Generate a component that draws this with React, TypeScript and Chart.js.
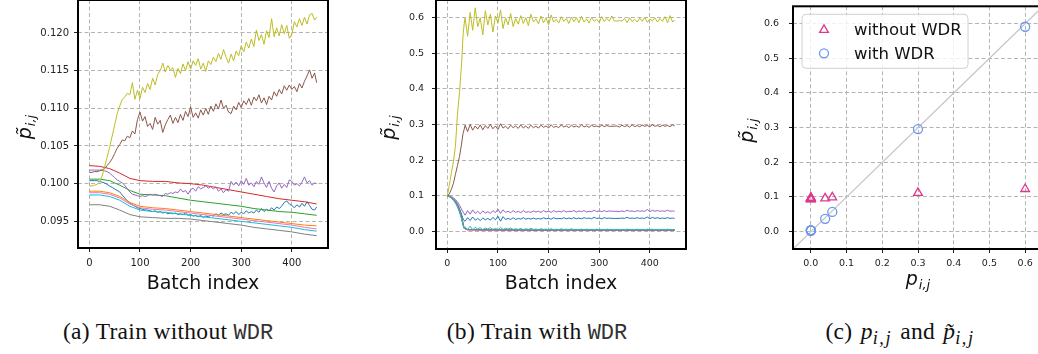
import React, { useEffect, useRef } from 'react';
import { Chart, registerables } from 'chart.js';

Chart.register(...registerables);

const FONT = "'DejaVu Sans', sans-serif";

// ---------------- classes ----------------
const classColors = ['#1f77b4', '#ff7f0e', '#2ca02c', '#d62728', '#9467bd', '#8c564b', '#e377c2', '#7f7f7f', '#bcbd22', '#17becf'];

// ---------------- panel (a): train without WDR ----------------
const aNoisyBatch = [
  0, 5, 10, 15, 20, 25, 30, 35, 40, 45,
  50, 55, 60, 65, 70, 75, 80, 85, 90, 95,
  100, 105, 110, 115, 120, 125, 130, 135, 140, 145,
  150, 155, 160, 165, 170, 175, 180, 185, 190, 195,
  200, 205, 210, 215, 220, 225, 230, 235, 240, 245,
  250, 255, 260, 265, 270, 275, 280, 285, 290, 295,
  300, 305, 310, 315, 320, 325, 330, 335, 340, 345,
  350, 355, 360, 365, 370, 375, 380, 385, 390, 395,
  400, 405, 410, 415, 420, 425, 430, 435, 440, 445,
  449,
];
const aSmoothBatch = [0, 20, 40, 60, 80, 100, 125, 150, 175, 200, 225, 250, 275, 300, 325, 350, 375, 400, 425, 449];

const aOlive = [
  0.0997, 0.0997, 0.0998, 0.0999, 0.1002, 0.1010, 0.1022, 0.1035, 0.1048, 0.1063,
  0.1078, 0.1093, 0.1103, 0.1112, 0.1115, 0.1120, 0.1118, 0.1134, 0.1112, 0.1124,
  0.1113, 0.1128, 0.1121, 0.1133, 0.1125, 0.1140, 0.1131, 0.1145, 0.1150, 0.1160,
  0.1148, 0.1157, 0.1151, 0.1154, 0.1141, 0.1153, 0.1146, 0.1159, 0.1150, 0.1162,
  0.1152, 0.1163, 0.1157, 0.1166, 0.1152, 0.1160, 0.1149, 0.1163, 0.1158, 0.1168,
  0.1162, 0.1173, 0.1165, 0.1178, 0.1168, 0.1160, 0.1172, 0.1163, 0.1176, 0.1170,
  0.1183, 0.1175, 0.1188, 0.1180, 0.1192, 0.1182, 0.1204, 0.1190, 0.1198, 0.1185,
  0.1203, 0.1194, 0.1219, 0.1195, 0.1207, 0.1196, 0.1211, 0.1199, 0.1210, 0.1193,
  0.1198, 0.1215, 0.1208, 0.1219, 0.1210, 0.1221, 0.1212, 0.1224, 0.1226, 0.1217,
  0.1221,
];
const aBrown = [
  0.1015, 0.1015, 0.1016, 0.1016, 0.1017, 0.1018, 0.1020, 0.1024, 0.1028, 0.1033,
  0.1040, 0.1047, 0.1052, 0.1058, 0.1057, 0.1063, 0.1061, 0.1070, 0.1066, 0.1085,
  0.1095, 0.1083, 0.1089, 0.1076, 0.1080, 0.1072, 0.1088, 0.1079, 0.1084, 0.1068,
  0.1078, 0.1085, 0.1091, 0.1080, 0.1088, 0.1081, 0.1092, 0.1084, 0.1096, 0.1089,
  0.1102, 0.1088, 0.1094, 0.1087, 0.1098, 0.1091, 0.1100, 0.1092, 0.1103, 0.1096,
  0.1106, 0.1099, 0.1111, 0.1100, 0.1104, 0.1095, 0.1093, 0.1103, 0.1098, 0.1108,
  0.1101, 0.1110, 0.1105, 0.1113, 0.1104, 0.1115, 0.1110, 0.1118, 0.1107, 0.1114,
  0.1105, 0.1116, 0.1111, 0.1122, 0.1116, 0.1125, 0.1119, 0.1130, 0.1124, 0.1131,
  0.1125, 0.1129, 0.1122, 0.1133, 0.1127, 0.1136, 0.1143, 0.1151, 0.1140, 0.1147,
  0.1134,
];
const aPurple = [
  0.1018, 0.1018, 0.1018, 0.1018, 0.1018, 0.1018, 0.1017, 0.1016, 0.1014, 0.1011,
  0.1008, 0.1005, 0.1003, 0.1001, 0.0998, 0.0993, 0.0989, 0.0986, 0.0985, 0.0984,
  0.0983, 0.0984, 0.0983, 0.0984, 0.0986, 0.0985, 0.0986, 0.0985, 0.0984, 0.0983,
  0.0987, 0.0986, 0.0988, 0.0987, 0.0989, 0.0988, 0.0993, 0.0989, 0.0991, 0.0986,
  0.0992, 0.0994, 0.0990, 0.0996, 0.0993, 0.0995, 0.0997, 0.0994, 0.0996, 0.0993,
  0.0996, 0.0990, 0.0993, 0.0988, 0.0992, 0.0990, 0.1003, 0.0998, 0.1002, 0.0997,
  0.1004, 0.0999, 0.1007, 0.0998, 0.1001, 0.0996, 0.1003, 0.0999, 0.1009, 0.1001,
  0.0995, 0.1003, 0.0994, 0.0989, 0.0997, 0.1001, 0.0994, 0.0999, 0.0995, 0.1005,
  0.1003, 0.0998, 0.1000, 0.0997, 0.1002, 0.1009, 0.1001, 0.1004, 0.0998, 0.1001,
  0.1000,
];
const aBlue = [
  0.1004, 0.1004, 0.1004, 0.1004, 0.1003, 0.1002, 0.1001, 0.0999, 0.0997, 0.0995,
  0.0993, 0.0991, 0.0989, 0.0985, 0.0981, 0.0977, 0.0974, 0.0972, 0.0970, 0.0968,
  0.0967, 0.0966, 0.0965, 0.0965, 0.0964, 0.0963, 0.0964, 0.0962, 0.0963, 0.0961,
  0.0962, 0.0960, 0.0961, 0.0960, 0.0961, 0.0959, 0.0960, 0.0959, 0.0961, 0.0958,
  0.0959, 0.0957, 0.0958, 0.0956, 0.0958, 0.0955, 0.0957, 0.0956, 0.0958, 0.0957,
  0.0960, 0.0958, 0.0961, 0.0959, 0.0960, 0.0958, 0.0962, 0.0960, 0.0963, 0.0959,
  0.0962, 0.0960, 0.0964, 0.0961, 0.0963, 0.0961, 0.0965, 0.0962, 0.0967, 0.0963,
  0.0966, 0.0964, 0.0968, 0.0965, 0.0969, 0.0967, 0.0970, 0.0975, 0.0977, 0.0973,
  0.0971, 0.0968, 0.0972, 0.0969, 0.0974, 0.0970, 0.0976, 0.0971, 0.0966, 0.0965,
  0.0969,
];
const aRed = [0.1024, 0.1023, 0.1020, 0.1014, 0.1007, 0.1004, 0.1003, 0.1003, 0.1001, 0.1000, 0.0998, 0.0995, 0.0992, 0.0989, 0.0986, 0.0983, 0.0980, 0.0978, 0.0976, 0.0973];
const aGreen = [0.1006, 0.1006, 0.1004, 0.0998, 0.0991, 0.0986, 0.0985, 0.0984, 0.0981, 0.0978, 0.0976, 0.0974, 0.0972, 0.0970, 0.0967, 0.0965, 0.0963, 0.0962, 0.0960, 0.0958];
const aOrange = [0.0990, 0.0990, 0.0988, 0.0983, 0.0975, 0.0970, 0.0968, 0.0967, 0.0965, 0.0963, 0.0961, 0.0959, 0.0957, 0.0955, 0.0953, 0.0951, 0.0949, 0.0947, 0.0945, 0.0944];
const aPink = [0.0988, 0.0988, 0.0986, 0.0981, 0.0973, 0.0968, 0.0966, 0.0965, 0.0963, 0.0961, 0.0959, 0.0957, 0.0955, 0.0953, 0.0951, 0.0949, 0.0947, 0.0945, 0.0942, 0.0940];
const aCyan = [0.0985, 0.0985, 0.0983, 0.0978, 0.0970, 0.0965, 0.0963, 0.0962, 0.0960, 0.0958, 0.0956, 0.0954, 0.0952, 0.0950, 0.0948, 0.0946, 0.0944, 0.0942, 0.0939, 0.0937];
const aGray = [0.0972, 0.0972, 0.0970, 0.0965, 0.0959, 0.0956, 0.0955, 0.0954, 0.0954, 0.0953, 0.0951, 0.0949, 0.0947, 0.0945, 0.0942, 0.0940, 0.0938, 0.0936, 0.0933, 0.0931];

const aXTicks = [0, 100, 200, 300, 400];
const aYTicks = [0.095, 0.1, 0.105, 0.11, 0.115, 0.12];

// ---------------- panel (b): train with WDR ----------------
const bNoisyBatch = [
  0, 4, 8, 12, 16, 20, 24, 28, 31, 33,
  35, 40, 45, 50, 55, 60, 65, 70, 75, 80,
  85, 90, 95, 100, 105, 110, 115, 120, 125, 130,
  135, 140, 145, 150, 155, 160, 165, 170, 175, 180,
  185, 190, 195, 200, 205, 210, 215, 220, 225, 230,
  235, 240, 245, 250, 255, 260, 265, 270, 275, 280,
  285, 290, 295, 300, 305, 310, 315, 320, 325, 330,
  335, 340, 345, 350, 355, 360, 365, 370, 375, 380,
  385, 390, 395, 400, 405, 410, 415, 420, 425, 430,
  435, 440, 445, 449,
];
const bSmoothBatch = [0, 4, 8, 12, 16, 20, 24, 28, 31, 33, 40, 60, 100, 150, 200, 250, 300, 350, 400, 449];

const bOlive = [
  0.100, 0.130, 0.165, 0.195, 0.240, 0.330, 0.390, 0.470, 0.550, 0.580,
  0.600, 0.548, 0.615, 0.565, 0.628, 0.575, 0.600, 0.552, 0.620, 0.580,
  0.610, 0.560, 0.605, 0.585, 0.622, 0.570, 0.600, 0.580, 0.612, 0.575,
  0.598, 0.582, 0.606, 0.584, 0.600, 0.578, 0.610, 0.588, 0.597, 0.583,
  0.605, 0.586, 0.600, 0.580, 0.608, 0.588, 0.596, 0.585, 0.603, 0.590,
  0.598, 0.584, 0.602, 0.589, 0.600, 0.586, 0.604, 0.588, 0.597, 0.585,
  0.601, 0.590, 0.596, 0.587, 0.603, 0.589, 0.598, 0.591, 0.605, 0.591,
  0.591, 0.592, 0.591, 0.598, 0.586, 0.600, 0.589, 0.596, 0.588, 0.599,
  0.590, 0.602, 0.587, 0.597, 0.591, 0.600, 0.588, 0.598, 0.590, 0.603,
  0.586, 0.606, 0.588, 0.594,
];
const bBrown = [
  0.100, 0.105, 0.118, 0.135, 0.160, 0.185, 0.210, 0.245, 0.275, 0.285,
  0.298, 0.280, 0.300, 0.284, 0.296, 0.287, 0.299, 0.285, 0.297, 0.289,
  0.300, 0.288, 0.296, 0.286, 0.302, 0.290, 0.295, 0.288, 0.298, 0.291,
  0.296, 0.289, 0.299, 0.290, 0.296, 0.289, 0.298, 0.291, 0.295, 0.290,
  0.298, 0.292, 0.296, 0.290, 0.299, 0.292, 0.295, 0.291, 0.299, 0.293,
  0.296, 0.291, 0.298, 0.293, 0.296, 0.292, 0.299, 0.293, 0.296, 0.292,
  0.298, 0.294, 0.296, 0.293, 0.298, 0.294, 0.297, 0.295, 0.295, 0.295,
  0.296, 0.293, 0.298, 0.294, 0.297, 0.293, 0.299, 0.294, 0.297, 0.294,
  0.298, 0.295, 0.297, 0.294, 0.299, 0.295, 0.297, 0.294, 0.298, 0.295,
  0.297, 0.294, 0.299, 0.296,
];
const bPurple = [
  0.100, 0.099, 0.097, 0.094, 0.089, 0.082, 0.073, 0.062, 0.054, 0.050,
  0.045, 0.058, 0.048, 0.060, 0.050, 0.056, 0.049, 0.057, 0.051, 0.055,
  0.050, 0.058, 0.052, 0.062, 0.050, 0.060, 0.053, 0.056, 0.052, 0.058,
  0.053, 0.056, 0.052, 0.058, 0.053, 0.055, 0.053, 0.057, 0.054, 0.056,
  0.053, 0.058, 0.054, 0.056, 0.053, 0.058, 0.054, 0.056, 0.054, 0.058,
  0.054, 0.056, 0.055, 0.058, 0.054, 0.057, 0.055, 0.058, 0.054, 0.056,
  0.055, 0.059, 0.055, 0.057, 0.055, 0.058, 0.055, 0.057, 0.056, 0.056,
  0.056, 0.055, 0.057, 0.055, 0.059, 0.056, 0.057, 0.055, 0.058, 0.056,
  0.057, 0.056, 0.061, 0.055, 0.059, 0.056, 0.058, 0.056, 0.057, 0.056,
  0.059, 0.056, 0.057, 0.056,
];
const bBlue = [
  0.100, 0.098, 0.095, 0.091, 0.085, 0.076, 0.064, 0.048, 0.035, 0.030,
  0.028, 0.038, 0.030, 0.040, 0.031, 0.036, 0.030, 0.037, 0.032, 0.036,
  0.031, 0.039, 0.032, 0.042, 0.028, 0.041, 0.033, 0.036, 0.033, 0.038,
  0.033, 0.036, 0.034, 0.038, 0.034, 0.036, 0.034, 0.037, 0.034, 0.036,
  0.034, 0.038, 0.035, 0.036, 0.034, 0.038, 0.035, 0.036, 0.035, 0.038,
  0.035, 0.037, 0.035, 0.038, 0.035, 0.037, 0.035, 0.038, 0.036, 0.037,
  0.035, 0.039, 0.036, 0.037, 0.035, 0.038, 0.036, 0.037, 0.036, 0.036,
  0.036, 0.036, 0.037, 0.036, 0.039, 0.036, 0.037, 0.036, 0.038, 0.036,
  0.037, 0.036, 0.040, 0.035, 0.039, 0.036, 0.038, 0.036, 0.037, 0.036,
  0.038, 0.036, 0.037, 0.036,
];
const bCyan = [
  0.100, 0.097, 0.093, 0.087, 0.079, 0.068, 0.053, 0.034, 0.016, 0.009,
  0.012, 0.005, 0.014, 0.004, 0.011, 0.006, 0.010, 0.004, 0.009, 0.006,
  0.010, 0.005, 0.008, 0.004, 0.011, 0.005, 0.008, 0.006, 0.009, 0.005,
  0.007, 0.005, 0.008, 0.004, 0.007, 0.005, 0.008, 0.005, 0.006, 0.004,
  0.007, 0.005, 0.006, 0.004, 0.007, 0.004, 0.006, 0.004, 0.007, 0.004,
  0.006, 0.004, 0.007, 0.004, 0.005, 0.004, 0.006, 0.003, 0.006, 0.004,
  0.005, 0.003, 0.006, 0.004, 0.005, 0.003, 0.006, 0.004, 0.005, 0.004,
  0.004, 0.004, 0.005, 0.003, 0.006, 0.004, 0.005, 0.003, 0.006, 0.004,
  0.005, 0.003, 0.006, 0.004, 0.006, 0.003, 0.005, 0.004, 0.005, 0.003,
  0.006, 0.004, 0.005, 0.004,
];
const bRed = [0.100, 0.098, 0.094, 0.089, 0.082, 0.072, 0.058, 0.040, 0.020, 0.008, 0.004, 0.004, 0.003, 0.003, 0.003, 0.003, 0.003, 0.003, 0.003, 0.003];
const bGreen = [0.100, 0.098, 0.095, 0.090, 0.083, 0.073, 0.060, 0.042, 0.022, 0.009, 0.005, 0.004, 0.004, 0.003, 0.003, 0.003, 0.003, 0.003, 0.003, 0.003];
const bOrange = [0.100, 0.097, 0.093, 0.088, 0.080, 0.070, 0.055, 0.037, 0.018, 0.008, 0.004, 0.004, 0.003, 0.003, 0.003, 0.003, 0.003, 0.003, 0.003, 0.003];
const bPink = [0.100, 0.097, 0.094, 0.088, 0.081, 0.071, 0.056, 0.038, 0.019, 0.008, 0.004, 0.003, 0.003, 0.003, 0.003, 0.003, 0.003, 0.003, 0.003, 0.003];
const bGray = [0.100, 0.098, 0.095, 0.090, 0.084, 0.074, 0.061, 0.043, 0.023, 0.010, 0.005, 0.004, 0.004, 0.003, 0.003, 0.003, 0.003, 0.003, 0.003, 0.003];

const bXTicks = [0, 100, 200, 300, 400];
const bYTicks = [0, 0.1, 0.2, 0.3, 0.4, 0.5, 0.6];

// ---------------- panel (c): p vs estimated p ----------------
const cTrueProb = [0.04, 0, 0, 0, 0.06, 0.3, 0, 0, 0.6, 0];
const cWithoutWDR = [0.096, 0.096, 0.097, 0.098, 0.099, 0.112, 0.094, 0.093, 0.123, 0.095];
const cWithWDR = [0.037, 0.004, 0.003, 0.003, 0.057, 0.296, 0.003, 0.004, 0.591, 0.004];
const cDiagonal = [-0.05, 0.65];
const cXTicks = [0, 0.1, 0.2, 0.3, 0.4, 0.5, 0.6];
const cYTicks = [0, 0.1, 0.2, 0.3, 0.4, 0.5, 0.6];
const cLegendLabels = ['without WDR', 'with WDR'];
const cColors = ['#dd3a8c', '#6b97ee'];

// ---------------- helpers ----------------
type Series = [number[], number[]];

const aSeries: Series[] = [
  [aNoisyBatch, aBlue], [aSmoothBatch, aOrange], [aSmoothBatch, aGreen], [aSmoothBatch, aRed], [aNoisyBatch, aPurple],
  [aNoisyBatch, aBrown], [aSmoothBatch, aPink], [aSmoothBatch, aGray], [aNoisyBatch, aOlive], [aSmoothBatch, aCyan],
];
const bSeries: Series[] = [
  [bNoisyBatch, bBlue], [bSmoothBatch, bOrange], [bSmoothBatch, bGreen], [bSmoothBatch, bRed], [bNoisyBatch, bPurple],
  [bNoisyBatch, bBrown], [bSmoothBatch, bPink], [bSmoothBatch, bGray], [bNoisyBatch, bOlive], [bNoisyBatch, bCyan],
];

function lineDatasets(series: Series[]) {
  return series.map(([xs, ys], i) => ({
    label: 'class ' + i,
    data: ys.map((y, k) => ({ x: xs[k], y })),
    borderColor: classColors[i],
    backgroundColor: classColors[i],
    borderWidth: 1,
    pointRadius: 0,
    tension: 0,
    fill: false,
    order: classColors.length - 1 - i,
  }));
}

function makeScale(o: {
  isX: boolean; min: number; max: number; ticks: number[]; decimals: number; size: number;
  fontSize: number; pad: number; title?: any;
}) {
  return {
    type: 'linear',
    position: o.isX ? 'bottom' : 'left',
    min: o.min,
    max: o.max,
    afterBuildTicks: (s: any) => { s.ticks = o.ticks.map((v) => ({ value: v })); },
    afterFit: (s: any) => {
      if (o.isX) s.height = o.size; else s.width = o.size;
      s.paddingTop = 0; s.paddingBottom = 0; s.paddingLeft = 0; s.paddingRight = 0;
    },
    ticks: {
      callback: (v: any) => Number(v).toFixed(o.decimals),
      font: { family: FONT, size: o.fontSize },
      color: '#222',
      padding: o.pad,
      maxRotation: 0,
      autoSkip: false,
    },
    grid: {
      color: '#b4b4b4', lineWidth: 1, drawTicks: true, tickLength: 4,
      tickColor: '#222', tickWidth: 1, tickBorderDash: [],
    },
    border: { display: false, dash: [4, 2.5] },
    title: o.title || { display: false },
  };
}

const framePlugin = {
  id: 'frame',
  afterDatasetsDraw(chart: any) {
    const { ctx, chartArea: a } = chart;
    ctx.save();
    ctx.strokeStyle = '#000';
    ctx.lineWidth = 2;
    ctx.strokeRect(a.left, a.top, a.right - a.left, a.bottom - a.top);
    ctx.restore();
  },
};

function drawMath(ctx: CanvasRenderingContext2D, x: number, y: number, rot: number, tilde: boolean) {
  ctx.save();
  ctx.translate(x, y);
  ctx.rotate(rot);
  ctx.fillStyle = '#111';
  ctx.textAlign = 'left';
  ctx.textBaseline = 'alphabetic';
  const mainFont = `italic 19px ${FONT}`;
  const subFont = `italic 13px ${FONT}`;
  ctx.font = mainFont;
  const mw = ctx.measureText('p').width;
  ctx.font = subFont;
  const sw = ctx.measureText('i,j').width;
  const total = mw + 1 + sw;
  const base = tilde ? 3.6 : 1.6;
  ctx.font = mainFont;
  ctx.fillText(tilde ? 'p\u0303' : 'p', -total / 2, base);
  ctx.font = subFont;
  ctx.fillText('i,j', -total / 2 + mw + 1, base + 4.5);
  ctx.restore();
}

function mathTitlePlugin(yTitleX: number, xTitleY: number | null) {
  return {
    id: 'mathTitles',
    afterDraw(chart: any) {
      const { ctx, chartArea: a } = chart;
      drawMath(ctx, yTitleX, (a.top + a.bottom) / 2 + 3, -Math.PI / 2, true);
      if (xTitleY !== null) drawMath(ctx, (a.left + a.right) / 2, xTitleY, 0, false);
    },
  };
}

function drawMarker(ctx: CanvasRenderingContext2D, style: string, x: number, y: number, r: number) {
  ctx.beginPath();
  if (style === 'triangle') {
    let rad = 0;
    ctx.moveTo(x + Math.sin(rad) * r, y - Math.cos(rad) * r);
    rad += (2 * Math.PI) / 3;
    ctx.lineTo(x + Math.sin(rad) * r, y - Math.cos(rad) * r);
    rad += (2 * Math.PI) / 3;
    ctx.lineTo(x + Math.sin(rad) * r, y - Math.cos(rad) * r);
    ctx.closePath();
  } else {
    ctx.arc(x, y, r, 0, Math.PI * 2);
  }
  ctx.stroke();
}

const legendPlugin = {
  id: 'boxLegend',
  afterDraw(chart: any) {
    const { ctx, chartArea: a } = chart;
    const x0 = a.left + 9, y0 = a.top + 8, w = 166, h = 54, r = 4;
    ctx.save();
    ctx.beginPath();
    ctx.moveTo(x0 + r, y0);
    ctx.arcTo(x0 + w, y0, x0 + w, y0 + h, r);
    ctx.arcTo(x0 + w, y0 + h, x0, y0 + h, r);
    ctx.arcTo(x0, y0 + h, x0, y0, r);
    ctx.arcTo(x0, y0, x0 + w, y0, r);
    ctx.closePath();
    ctx.fillStyle = 'rgba(255,255,255,0.8)';
    ctx.fill();
    ctx.strokeStyle = '#d0d0d0';
    ctx.lineWidth = 1;
    ctx.stroke();
    const styles = ['triangle', 'circle'];
    cLegendLabels.forEach((label, k) => {
      const my = y0 + 15.5 + k * 23.5;
      ctx.strokeStyle = cColors[k];
      ctx.lineWidth = 1.3;
      drawMarker(ctx, styles[k], x0 + 22, my, styles[k] === 'triangle' ? 5 : 4.5);
      ctx.fillStyle = '#111';
      ctx.font = `16.5px ${FONT}`;
      ctx.textAlign = 'left';
      ctx.textBaseline = 'middle';
      ctx.fillText(label, x0 + 52, my + 1);
    });
    ctx.restore();
  },
};

function batchTitle(padBottom: number) {
  return {
    display: true, text: 'Batch index', color: '#111',
    font: { family: FONT, size: 19 }, padding: { top: 0, bottom: padBottom },
  };
}

// ---------------- components ----------------
function ChartBox(props: { left: number; width: number; height: number; make: (c: HTMLCanvasElement) => Chart }) {
  const ref = useRef<HTMLCanvasElement | null>(null);
  useEffect(() => {
    if (!ref.current) return;
    const ch = props.make(ref.current);
    return () => ch.destroy();
  }, []);
  return (
    <div style={{ position: 'absolute', left: props.left, top: 0, width: props.width, height: props.height }}>
      <canvas ref={ref} width={props.width} height={props.height} style={{ width: props.width, height: props.height, display: 'block' }} />
    </div>
  );
}

function makeA(canvas: HTMLCanvasElement) {
  return new Chart(canvas, {
    type: 'line',
    data: { datasets: lineDatasets(aSeries) as any },
    options: {
      animation: false, responsive: false, events: [],
      layout: { padding: { left: 0, right: 4, top: 0, bottom: 0 } },
      plugins: { legend: { display: false }, tooltip: { enabled: false } },
      scales: {
        x: makeScale({ isX: true, min: -22.45, max: 471.45, ticks: aXTicks, decimals: 0, size: 52, fontSize: 10, pad: 5, title: batchTitle(4.6) }) as any,
        y: makeScale({ isX: false, min: 0.09146, max: 0.12438, ticks: aYTicks, decimals: 3, size: 78, fontSize: 10, pad: 5 }) as any,
      },
    },
    plugins: [framePlugin, mathTitlePlugin(27, null)],
  });
}

function makeB(canvas: HTMLCanvasElement) {
  return new Chart(canvas, {
    type: 'line',
    data: { datasets: lineDatasets(bSeries) as any },
    options: {
      animation: false, responsive: false, events: [],
      layout: { padding: { left: 0, right: 12, top: 0, bottom: 0 } },
      plugins: { legend: { display: false }, tooltip: { enabled: false } },
      scales: {
        x: makeScale({ isX: true, min: -22.45, max: 471.45, ticks: bXTicks, decimals: 0, size: 51, fontSize: 9.5, pad: 5, title: batchTitle(4.1) }) as any,
        y: makeScale({ isX: false, min: -0.05, max: 0.65, ticks: bYTicks, decimals: 1, size: 78, fontSize: 9.5, pad: 8 }) as any,
      },
    },
    plugins: [framePlugin, mathTitlePlugin(33, null)],
  });
}

function makeC(canvas: HTMLCanvasElement) {
  return new Chart(canvas, {
    type: 'scatter',
    data: {
      datasets: [
        {
          label: 'diag',
          data: cDiagonal.map((v) => ({ x: v, y: v })),
          showLine: true, borderColor: '#c4c4c4', borderWidth: 1.2, pointRadius: 0, order: 2,
        },
        {
          label: cLegendLabels[0],
          data: cTrueProb.map((p, i) => ({ x: p, y: cWithoutWDR[i] })),
          pointStyle: 'triangle', pointRadius: 5, borderColor: cColors[0], backgroundColor: 'rgba(0,0,0,0)',
          pointBorderWidth: 1.3, order: 1,
        },
        {
          label: cLegendLabels[1],
          data: cTrueProb.map((p, i) => ({ x: p, y: cWithWDR[i] })),
          pointStyle: 'circle', pointRadius: 4.5, borderColor: cColors[1], backgroundColor: 'rgba(0,0,0,0)',
          pointBorderWidth: 1.3, order: 0,
        },
      ] as any,
    },
    options: {
      animation: false, responsive: false, events: [],
      layout: { padding: { left: 0, right: 12, top: 0, bottom: 0 } },
      plugins: { legend: { display: false }, tooltip: { enabled: false } },
      scales: {
        x: makeScale({ isX: true, min: -0.05, max: 0.65, ticks: cXTicks, decimals: 1, size: 51, fontSize: 9.5, pad: 5 }) as any,
        y: makeScale({ isX: false, min: -0.05, max: 0.65, ticks: cYTicks, decimals: 1, size: 78, fontSize: 9.5, pad: 10 }) as any,
      },
    },
    plugins: [framePlugin, legendPlugin, mathTitlePlugin(34, 283)],
  });
}

const captionStyle: React.CSSProperties = {
  position: 'absolute', top: 320, transform: 'translateX(-50%)', whiteSpace: 'nowrap',
  fontFamily: "'Liberation Serif', serif", fontSize: 23.5, lineHeight: '23px', color: '#111', letterSpacing: 0.3,
};
const monoStyle: React.CSSProperties = { fontFamily: "'Liberation Mono', monospace", fontSize: 22, color: '#333', letterSpacing: 0 };
const mathStyle: React.CSSProperties = { fontStyle: 'italic', marginLeft: 2 };
const subStyle: React.CSSProperties = { fontSize: '0.78em', verticalAlign: '-0.3em', lineHeight: 0, fontStyle: 'italic', letterSpacing: 1.5, marginRight: 2 };

export default function App() {
  return (
    <div style={{ position: 'fixed', left: 0, top: 0, width: 1038, height: 354, overflow: 'hidden', background: '#fff' }}>
      <ChartBox left={0} width={332} height={300} make={makeA} />
      <ChartBox left={358} width={340} height={300} make={makeB} />
      <ChartBox left={715} width={340} height={300} make={makeC} />
      <div style={{ ...captionStyle, left: 168 }}>
        (a) Train without <span style={monoStyle}>WDR</span>
      </div>
      <div style={{ ...captionStyle, left: 537 }}>
        (b) Train with <span style={monoStyle}>WDR</span>
      </div>
      <div style={{ ...captionStyle, left: 901 }}>
        (c)<span style={mathStyle}> p</span><sub style={subStyle}>i,j</sub> and<span style={mathStyle}> p&#x0303;</span><sub style={subStyle}>i,j</sub>
      </div>
    </div>
  );
}
